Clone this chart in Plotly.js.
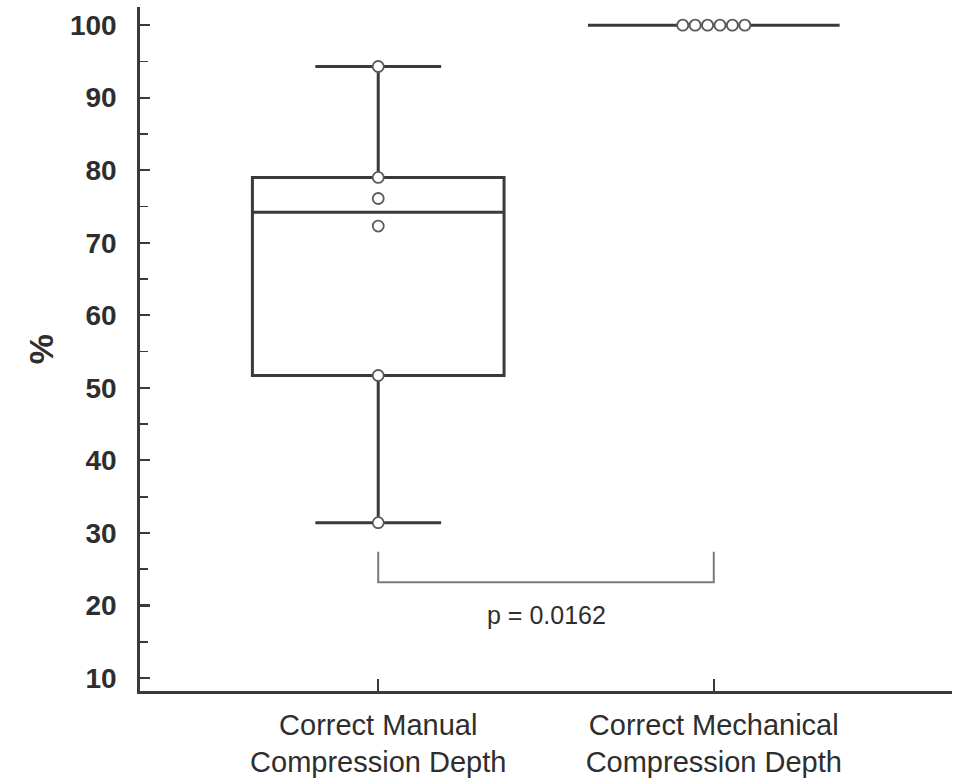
<!DOCTYPE html>
<html>
<head>
<meta charset="utf-8">
<script src="https://cdn.plot.ly/plotly-3.0.1.min.js"></script>
<style>
  html, body { margin: 0; padding: 0; background: #ffffff; }
  #chart { width: 954px; height: 781px; }
</style>
</head>
<body>
<div id="chart"></div>
<script>
// ---- data ----
var categories = ["Correct Manual<br>Compression Depth", "Correct Mechanical<br>Compression Depth"];
var manualValues = [31.4, 51.7, 72.3, 76.1, 79.0, 94.3];
var mechanicalValues = [100, 100, 100, 100, 100, 100];
var yTickValues = [10, 20, 30, 40, 50, 60, 70, 80, 90, 100];
var pLabel = "p = 0.0162";
var bracketTop = 27.4;
var bracketBottom = 23.2;
var pLabelY = 18.7;

// ---- styling ----
var ink = "#3a3a3a";
var textColor = "#2e2e2e";
var boxWidth = 0.75;
var dodgeStep = 0.037;

// spread identical values side by side (beeswarm-like dodge)
function dodge(values, center) {
  var counts = {}, seen = {}, xs = [];
  values.forEach(function (v) { counts[v] = (counts[v] || 0) + 1; });
  values.forEach(function (v) {
    var n = counts[v];
    var k = seen[v] || 0;
    seen[v] = k + 1;
    xs.push(center + (k - (n - 1) / 2) * dodgeStep);
  });
  return xs;
}

var groups = [manualValues, mechanicalValues];
var traces = [];
groups.forEach(function (vals, i) {
  traces.push({
    type: "box",
    y: vals,
    x0: i,
    width: boxWidth,
    whiskerwidth: 0.5,
    quartilemethod: "exclusive",
    boxpoints: false,
    fillcolor: "rgba(255,255,255,0)",
    line: { color: ink, width: 3 },
    hoverinfo: "skip",
    showlegend: false
  });
});
groups.forEach(function (vals, i) {
  traces.push({
    type: "scatter",
    mode: "markers",
    x: dodge(vals, i),
    y: vals,
    marker: { symbol: "circle", size: 11, color: "#ffffff", line: { color: "#5a5a5a", width: 1.8 } },
    hoverinfo: "skip",
    showlegend: false,
    cliponaxis: false
  });
});

var layout = {
  width: 954,
  height: 781,
  paper_bgcolor: "#ffffff",
  plot_bgcolor: "#ffffff",
  margin: { l: 140, r: 2, t: 7, b: 90 },
  showlegend: false,
  font: { family: "Liberation Sans, Arial, sans-serif", color: textColor },
  xaxis: {
    range: [-0.71, 1.71],
    tickmode: "array",
    tickvals: [0, 1],
    ticktext: categories,
    ticks: "inside",
    ticklen: 12,
    tickwidth: 2.2,
    tickcolor: ink,
    showline: true,
    linecolor: ink,
    linewidth: 2.8,
    showgrid: false,
    zeroline: false,
    ticklabelstandoff: 6,
    tickfont: { family: "Liberation Sans, Arial, sans-serif", size: 29, color: textColor },
    fixedrange: true
  },
  yaxis: {
    range: [8.2, 102.5],
    tickmode: "array",
    tickvals: yTickValues,
    ticks: "inside",
    ticklen: 10,
    tickwidth: 2.2,
    tickcolor: ink,
    minor: { dtick: 5, tick0: 5, ticks: "inside", ticklen: 8, tickwidth: 1.8, tickcolor: ink, showgrid: false },
    showline: true,
    linecolor: ink,
    linewidth: 2.8,
    showgrid: false,
    zeroline: false,
    ticklabelstandoff: 15,
    tickfont: { family: "Liberation Sans, Arial, sans-serif", size: 28, color: textColor, weight: "bold" },
    title: { text: "%", standoff: 6, font: { family: "Liberation Sans, Arial, sans-serif", size: 34, color: textColor, weight: "bold" } },
    fixedrange: true
  },
  shapes: [
    {
      type: "path",
      xref: "x", yref: "y",
      path: "M 0 " + bracketTop + " L 0 " + bracketBottom + " L 1 " + bracketBottom + " L 1 " + bracketTop,
      line: { color: "#7a7a7a", width: 2 }
    }
  ],
  annotations: [
    {
      xref: "x", yref: "y",
      x: 0.5, y: pLabelY,
      text: pLabel,
      showarrow: false,
      font: { family: "Liberation Sans, Arial, sans-serif", size: 25, color: textColor }
    }
  ]
};

Plotly.newPlot("chart", traces, layout, { displayModeBar: false, staticPlot: true });
</script>
</body>
</html>
